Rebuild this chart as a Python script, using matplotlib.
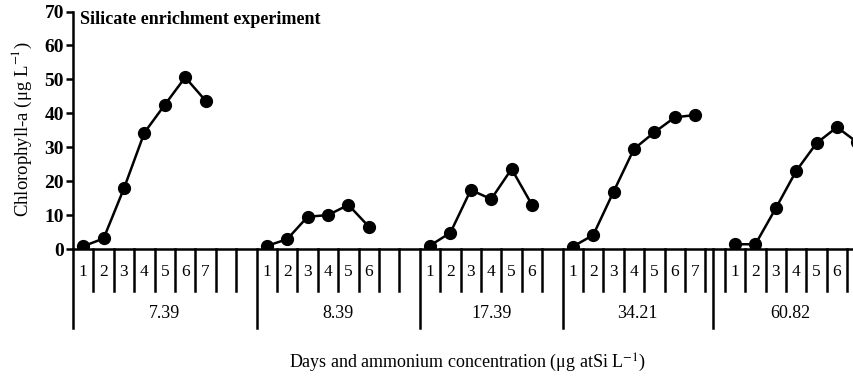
import math
import matplotlib
matplotlib.use('Agg')
import matplotlib.pyplot as plt
import matplotlib.transforms as mtransforms

plt.rcParams['font.family'] = ['Liberation Serif', 'DejaVu Serif']
plt.rcParams['mathtext.fontset'] = 'stix'

# silicate enrichment, chlorophyll-a per day for each concentration
groups = ['7.39', '8.39', '17.39', '34.21', '60.82']
chl_739 = [0.8, 3.1, 17.9, 34.3, 42.5, 50.6, 43.7]
chl_839 = [0.9, 2.9, 9.5, 10.0, 13.0, 6.6]
chl_1739 = [1.0, 4.8, 17.4, 14.7, 23.6, 13.0]
chl_3421 = [0.7, 4.1, 16.9, 29.5, 34.4, 38.8, 39.5]
chl_6082 = [1.4, 1.4, 12.0, 23.0, 31.2, 35.9, 31.4]
series = [chl_739, chl_839, chl_1739, chl_3421, chl_6082]

# blank slots before / after the days of each group (in slot widths)
lead_pad = [0, 0, 0, 0, 0.6]
trail_pad = [2, 2, 1, 0.35, 0]

W, H = 854, 378
fig = plt.figure(figsize=(W / 100, H / 100), dpi=100)
x0_px, y0_px, ytop_px = 73, 249, 11.5
ax = fig.add_axes([x0_px / W, 1 - y0_px / H, 1 - x0_px / W, (y0_px - ytop_px) / H])

slot_px = 20.4
xmax = (W - x0_px) / slot_px
ax.set_xlim(0, xmax)
ax.set_ylim(0, 70)

trans = mtransforms.blended_transform_factory(ax.transData, ax.transAxes)
h_px = y0_px - ytop_px
y_day = -(272 - y0_px) / h_px
y_grp = -(314 - y0_px) / h_px
y_short = -(291 - y0_px) / h_px
y_long = -(328 - y0_px) / h_px

lw = 1.8
start = 0.0
for name, vals, lead, trail in zip(groups, series, lead_pad, trail_pad):
    days_start = start + lead
    n = len(vals)
    xs = [days_start + i + 0.5 for i in range(n)]
    ax.plot(xs, vals, color='black', lw=lw, marker='o', ms=8.5,
            clip_on=True, zorder=3)

    # day numbers and short separators
    for i in range(n):
        ax.text(xs[i], y_day, str(i + 1), transform=trans, ha='center',
                va='center', fontsize=12.5, clip_on=False)
    seps = [days_start + k for k in range(1, n)]
    if lead > 0:
        seps.append(days_start)
    seps += [days_start + n + k for k in range(math.ceil(trail))]
    for s in seps:
        ax.plot([s, s], [0, y_short], transform=trans, color='black',
                lw=lw, clip_on=False)

    end = days_start + n + trail
    # long separator at group start
    ax.plot([start, start], [0, y_long], transform=trans, color='black',
            lw=lw, clip_on=False)
    ax.text((start + end) / 2, y_grp, name, transform=trans, ha='center',
            va='center', fontsize=13, clip_on=False)
    start = end

for side in ['top', 'right']:
    ax.spines[side].set_visible(False)
ax.spines['left'].set_linewidth(lw)
ax.spines['bottom'].set_linewidth(lw)
ax.set_xticks([])
ax.set_yticks(range(0, 71, 10))
ax.tick_params(axis='y', direction='out', length=5, width=lw, pad=1.5,
               labelsize=14)
for lab in ax.get_yticklabels():
    lab.set_fontweight('bold')

ax.text((80 - x0_px) / (W - x0_px), (y0_px - 20) / h_px,
        'Silicate enrichment experiment', transform=ax.transAxes,
        ha='left', va='center', fontsize=13, fontweight='bold')

fig.text(22 / W, 1 - 129 / H, 'Chlorophyll-a (μg L$^{-1}$)', rotation=90,
         ha='center', va='center', fontsize=13.5)
fig.text(467 / W, 1 - 363 / H,
         'Days and ammonium concentration (μg atSi L$^{-1}$)',
         ha='center', va='center', fontsize=13)

fig.savefig('out.png', dpi=100)
